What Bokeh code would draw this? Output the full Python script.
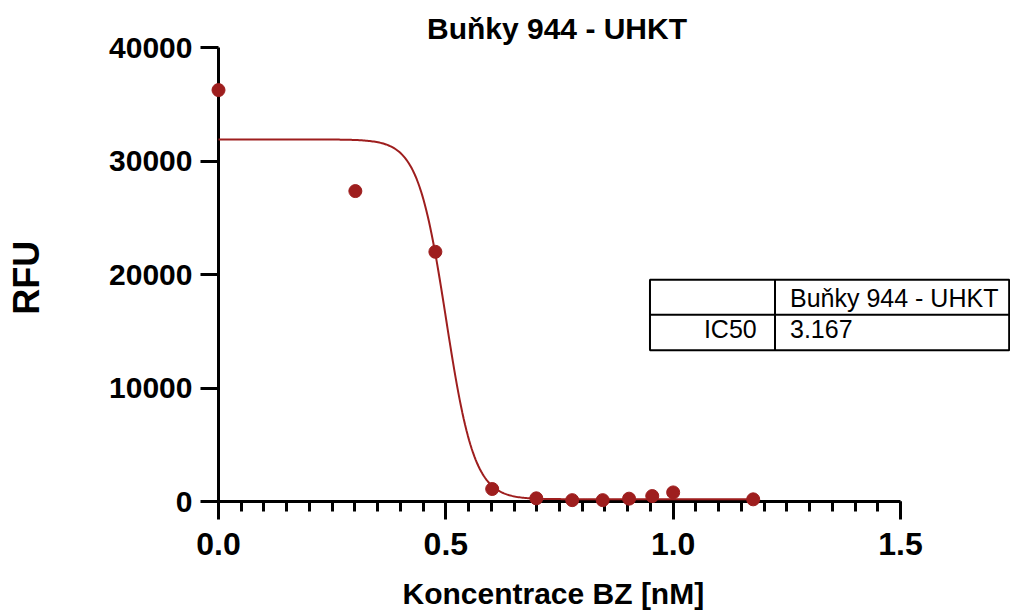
import numpy as np
from bokeh.plotting import figure
from bokeh.models import Range1d, FixedTicker, NumeralTickFormatter
from bokeh.core.properties import value
from bokeh.embed import file_html
from bokeh.resources import INLINE

# --- data -------------------------------------------------------------
title_text = "Buňky 944 - UHKT"
x_label = "Koncentrace  BZ [nM]"
y_label = "RFU"

# log10 of BZ concentration (nM) and measured fluorescence
log_conc = [0.0, 0.301, 0.477, 0.602, 0.699, 0.778, 0.845, 0.903, 0.954, 1.0, 1.176]
rfu = [36250, 27350, 22000, 1100, 280, 120, 120, 250, 480, 800, 190]

# four-parameter logistic fit
fit_top = 31900
fit_bottom = 200
fit_ic50 = 3.167
fit_hill = 14.0

x_ticks = [0.0, 0.5, 1.0, 1.5]
x_minor = [round(i * 0.05, 2) for i in range(31)]
y_ticks = [0, 10000, 20000, 30000, 40000]

table_header = ["", "Buňky 944 - UHKT"]
table_row = ["IC50", "3.167"]

# --- styling ----------------------------------------------------------
RED = "#9E1E1E"
FONT = "Liberation Sans"

p = figure(width=1010, height=614,
           x_range=Range1d(0, 1.5), y_range=Range1d(0, 40000),
           output_backend="svg", toolbar_location=None,
           min_border_left=218, min_border_right=110,
           min_border_top=47, min_border_bottom=113)
p.outline_line_color = None
p.grid.visible = False
p.background_fill_color = "white"
p.border_fill_color = "white"

for ax in (p.xaxis[0], p.yaxis[0]):
    ax.axis_line_width = 3
    ax.axis_line_color = "black"
    ax.major_tick_line_width = 3
    ax.minor_tick_line_width = 3
    ax.major_tick_in = 0
    ax.major_tick_out = 18
    ax.minor_tick_in = 0
    ax.minor_tick_out = 10
    ax.major_label_text_font = FONT
    ax.major_label_text_font_style = "bold"
    ax.major_label_text_color = "black"

p.xaxis.major_label_text_font_size = "32px"
p.yaxis.major_label_text_font_size = "30px"
p.xaxis.ticker = FixedTicker(ticks=x_ticks, minor_ticks=x_minor)
p.xaxis.formatter = NumeralTickFormatter(format="0.0")
p.xaxis.major_label_standoff = 13
p.yaxis.ticker = FixedTicker(ticks=y_ticks, minor_ticks=[])
p.yaxis.formatter = NumeralTickFormatter(format="0")
p.yaxis.major_label_standoff = 8

# fitted curve
xs = np.linspace(0, max(log_conc), 400)
ys = fit_bottom + (fit_top - fit_bottom) / (1 + 10 ** ((xs - np.log10(fit_ic50)) * fit_hill))
p.line(xs, ys, line_color=RED, line_width=2, level="overlay")

# measured points
p.scatter(log_conc, rfu, size=13, fill_color=RED, line_color=RED, level="overlay")

# results table
tx0, tx1, tx2 = 0.949, 1.224, 1.739
ty0, ty1, ty2 = 19540, 16460, 13320
p.quad(left=[tx0], right=[tx2], top=[ty0], bottom=[ty2],
       fill_color="white", line_color="black", line_width=2, level="overlay")
p.segment(x0=[tx0, tx1], y0=[ty1, ty0], x1=[tx2, tx1], y1=[ty1, ty2],
          line_color="black", line_width=2, level="overlay")

def add_text(x, y, text, size, style="normal", align="center", angle=0):
    p.text(x=[x], y=[y], text=[text], text_font=value(FONT),
           text_font_size=size, text_font_style=style,
           text_align=align, text_baseline="middle",
           text_color="black", angle=angle, level="overlay")

add_text(1.257, 17898, table_header[1], "25px", align="left")
add_text(1.1837, 15233, table_row[0], "25px", align="right")
add_text(1.257, 15233, table_row[1], "25px", align="left")

# title and axis titles
add_text(0.7445, 41645, title_text, "30px", style="bold")
add_text(0.7456, -8109, x_label, "30px", style="bold")
add_text(-0.4218, 19719, y_label, "36px", style="bold", angle=np.pi / 2)

open("out.html", "w").write(file_html(p, INLINE))
